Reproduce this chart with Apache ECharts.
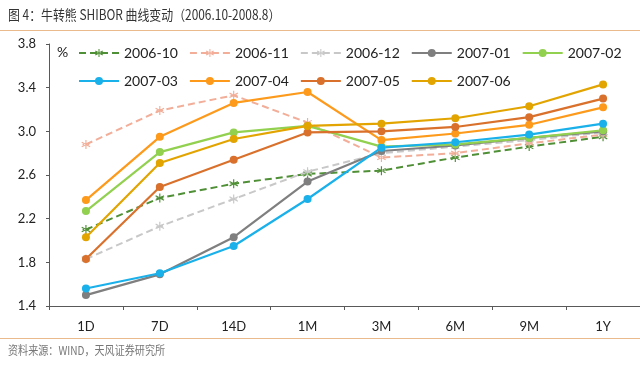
<!DOCTYPE html>
<html><head><meta charset="utf-8">
<script src="https://cdn.jsdelivr.net/npm/echarts@6/dist/echarts.min.js"></script>
<style>html,body{margin:0;padding:0;background:#fff}#c{width:640px;height:369px}</style>
</head><body><div id="c"></div>
<script>
var categories = ['1D','7D','14D','1M','3M','6M','9M','1Y'];
var seriesNames = ['2006-10','2006-11','2006-12','2007-01','2007-02','2007-03','2007-04','2007-05','2007-06'];
var s200610 = [2.10, 2.39, 2.52, 2.61, 2.64, 2.76, 2.86, 2.95];
var s200611 = [2.88, 3.19, 3.33, 3.08, 2.76, 2.80, 2.89, 2.97];
var s200612 = [1.83, 2.13, 2.38, 2.63, 2.80, 2.86, 2.92, 2.99];
var s200701 = [1.50, 1.69, 2.03, 2.54, 2.82, 2.87, 2.94, 3.00];
var s200702 = [2.27, 2.81, 2.99, 3.05, 2.86, 2.88, 2.94, 3.01];
var s200703 = [1.56, 1.70, 1.95, 2.38, 2.85, 2.90, 2.97, 3.07];
var s200704 = [2.37, 2.95, 3.26, 3.36, 2.92, 2.98, 3.06, 3.22];
var s200705 = [1.83, 2.49, 2.74, 2.99, 3.00, 3.04, 3.13, 3.30];
var s200706 = [2.03, 2.71, 2.93, 3.05, 3.07, 3.12, 3.23, 3.43];
var yTicks = [1.4, 1.8, 2.2, 2.6, 3.0, 3.4, 3.8];

var values = [s200610, s200611, s200612, s200701, s200702, s200703, s200704, s200705, s200706];
var colors = ['#4f8f35','#f2ae98','#c8c8c8','#7f7f7f','#92d050','#1ab0ea','#fd9a1b','#d9712c','#e2a400'];
var dashed = [true, true, true, false, false, false, false, false, false];
var star = 'path://M-1.2,10L1.2,10L1.2,-10L-1.2,-10Z M8.06,6.04L9.26,3.96L-8.06,-6.04L-9.26,-3.96Z M-9.26,3.96L-8.06,6.04L9.26,-3.96L8.06,-6.04Z M-7,-1.1L7,-1.1L7,1.1L-7,1.1Z';

var series = seriesNames.map(function(n, i){
  return {
    name: n, type: 'line', data: values[i],
    symbol: dashed[i] ? star : 'circle',
    symbolSize: dashed[i] ? 9 : 8,
    showAllSymbol: true,
    itemStyle: {color: colors[i]},
    lineStyle: {color: colors[i], width: dashed[i] ? 2 : 2.2, type: dashed[i] ? [7,4] : 'solid'},
    emphasis: {disabled: true},
    animation: false
  };
});

var legendCommon = {
  left: 78, width: 620, itemWidth: 40, itemHeight: 10, itemGap: 11, orient: 'horizontal', padding: 0,
  textStyle: {fontFamily: 'Lato', fontSize: 14, color: '#222'},
  selectedMode: false
};

var chart = echarts.init(document.getElementById('c'), null, {renderer: 'canvas'});
chart.setOption({
  animation: false,
  color: colors,
  grid: {left: 49, right: -12, top: 44, bottom: 63, containLabel: false},
  legend: [
    Object.assign({top: 46, data: seriesNames.slice(0,5)}, legendCommon),
    Object.assign({top: 74, data: seriesNames.slice(5)}, legendCommon)
  ],
  xAxis: {
    type: 'category', data: categories, boundaryGap: true,
    axisLine: {lineStyle: {color: '#595959', width: 1}},
    axisTick: {show: true, length: 4, inside: false, lineStyle: {color: '#595959'}},
    axisLabel: {fontFamily: 'Lato', fontSize: 13, color: '#222', margin: 14}
  },
  yAxis: {
    type: 'value', min: 1.4, max: 3.8, interval: 0.4,
    splitLine: {show: false},
    axisLine: {show: true, lineStyle: {color: '#595959', width: 1}},
    axisTick: {show: true, length: 3, lineStyle: {color: '#595959'}},
    axisLabel: {fontFamily: 'Lato', fontSize: 13, color: '#222', margin: 13,
      formatter: function(v){ return v.toFixed(1); }}
  },
  graphic: [
    {type: 'line', shape: {x1: 0, y1: 30.5, x2: 640, y2: 30.5}, style: {stroke: '#eab98c', lineWidth: 1}},
    {type: 'line', shape: {x1: 0, y1: 338.5, x2: 640, y2: 338.5}, style: {stroke: '#eab98c', lineWidth: 1}},
    {type: 'text', left: 8, top: 8, scaleX: 0.85,
      style: {text: '图 4：牛转熊 SHIBOR 曲线变动（2006.10-2008.8）', fontFamily: 'Noto Sans CJK SC', fontSize: 14, fill: '#333'}},
    {type: 'text', left: 8, top: 344, scaleX: 0.84,
      style: {text: '资料来源：WIND，天风证券研究所', fontFamily: 'Noto Sans CJK SC', fontSize: 12, fill: '#777'}},
    {type: 'text', left: 57, top: 45,
      style: {text: '%', fontFamily: 'Lato', fontSize: 14, fill: '#222'}}
  ],
  series: series
});
</script></body></html>
